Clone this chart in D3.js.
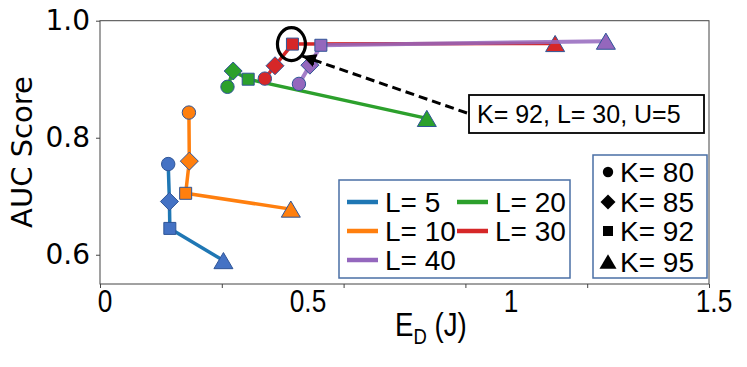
<!DOCTYPE html>
<html>
<head>
<meta charset="utf-8">
<script src="https://cdn.jsdelivr.net/npm/d3@7"></script>
<style>
  body { margin: 0; background: #fff; }
  svg { display: block; }
</style>
</head>
<body>
<div id="chart"></div>
<script>
// K values (marker shape) and L values (series)
var kValues = [80, 85, 92, 95];
var lValues = [5, 10, 20, 30, 40];

// energy E_D (J) per series, in K order
var ed5  = [0.168, 0.171, 0.172, 0.304];
var ed10 = [0.219, 0.220, 0.211, 0.470];
var ed20 = [0.314, 0.328, 0.365, 0.805];
var ed30 = [0.406, 0.431, 0.474, 1.121];
var ed40 = [0.490, 0.517, 0.544, 1.246];

// AUC score per series, in K order
var auc5  = [0.755, 0.691, 0.645, 0.590];
var auc10 = [0.843, 0.760, 0.705, 0.678];
var auc20 = [0.887, 0.914, 0.900, 0.833];
var auc30 = [0.901, 0.923, 0.960, 0.961];
var auc40 = [0.892, 0.924, 0.958, 0.965];

var xTickLabels = [0, 0.5, 1, 1.5];
var xTickMarks = [0, 0.3, 0.6, 0.9, 1.2, 1.5];
var yTicks = [0.6, 0.8, 1.0];

var lineColors = ["#1f77b4", "#ff7f0e", "#2ca02c", "#d62728", "#9467bd"];
var markColors = ["#4472c4", "#ff7f0e", "#2ca02c", "#d62728", "#9467bd"];
var edgeColor = "#2f5597";

// matplotlib-like marker shapes (size = half width)
var circleSym = {draw: function(c, r) { c.moveTo(r, 0); c.arc(0, 0, r, 0, 2 * Math.PI); }};
var diamondSym = {draw: function(c, r) { c.moveTo(0, -r); c.lineTo(r, 0); c.lineTo(0, r); c.lineTo(-r, 0); c.closePath(); }};
var squareSym = {draw: function(c, r) { c.rect(-r, -r, 2 * r, 2 * r); }};
var triangleSym = {draw: function(c, r) { var h = r * 0.85; c.moveTo(0, -h); c.lineTo(r, h); c.lineTo(-r, h); c.closePath(); }};
var shapes = [circleSym, diamondSym, squareSym, triangleSym];
var shapeSize = [6.7, 9, 6, 9.5];

var series = [
  {L: 5,  ed: ed5,  auc: auc5},
  {L: 10, ed: ed10, auc: auc10},
  {L: 20, ed: ed20, auc: auc20},
  {L: 30, ed: ed30, auc: auc30},
  {L: 40, ed: ed40, auc: auc40}
];

var W = 747, H = 367;
var plot = {left: 100, right: 709, top: 20.7, bottom: 284};

var svg = d3.select("#chart").append("svg")
    .attr("width", W)
    .attr("height", H);

var x = d3.scaleLinear().domain([0, 1.5]).range([plot.left, plot.right]);
var y = d3.scaleLinear().domain([0.55, 1.0]).range([plot.bottom, plot.top]);

// frame
svg.append("rect")
    .attr("x", plot.left).attr("y", plot.top)
    .attr("width", plot.right - plot.left).attr("height", plot.bottom - plot.top)
    .style("fill", "none").style("stroke", "#444").style("stroke-width", 1);

// x ticks (marks only) and labels
var xMarks = svg.append("g")
    .attr("transform", "translate(0," + plot.bottom + ")")
    .call(d3.axisBottom(x).tickValues(xTickMarks).tickSize(4).tickFormat(""));
xMarks.select(".domain").remove();
xMarks.selectAll("line").style("stroke", "#444");

var xLabels = svg.append("g")
    .attr("transform", "translate(0," + plot.bottom + ")")
    .call(d3.axisBottom(x).tickValues(xTickLabels).tickSize(0).tickPadding(5)
      .tickFormat(function(d){ return d; }));
xLabels.select(".domain").remove();
xLabels.selectAll(".tick").attr("transform", function(d) { return "translate(" + (x(d) + 5) + ",0)"; });
xLabels.selectAll("text")
    .attr("transform", "scale(0.82,1)")
    .style("font-family", "'Liberation Sans', Arial, sans-serif")
    .style("font-size", "32px").style("fill", "#000");

// y axis
var yAxis = svg.append("g")
    .attr("transform", "translate(" + plot.left + ",0)")
    .call(d3.axisLeft(y).tickValues(yTicks).tickSize(4).tickPadding(6)
      .tickFormat(d3.format(".1f")));
yAxis.select(".domain").remove();
yAxis.selectAll("line").style("stroke", "#444");
yAxis.selectAll("text")
    .style("font-family", "'DejaVu Sans', sans-serif")
    .style("font-size", "28px").style("fill", "#000");

// axis titles
svg.append("text")
    .attr("transform", "translate(32,152) rotate(-90)")
    .attr("text-anchor", "middle")
    .style("font-family", "'DejaVu Sans', sans-serif")
    .style("font-size", "29px")
    .text("AUC Score");

var xt = svg.append("text")
    .attr("transform", "translate(395,336) scale(0.84,1)")
    .style("font-family", "'Liberation Sans', Arial, sans-serif")
    .style("font-size", "33px");
xt.append("tspan").text("E");
xt.append("tspan").attr("dy", 8).style("font-size", "22px").text("D");
xt.append("tspan").attr("dy", -8).text(" (J)");

// lines + markers
var line = d3.line()
    .x(function(d){ return x(d.ed); })
    .y(function(d){ return y(d.auc); });

series.forEach(function(s, i) {
  var pts = kValues.map(function(k, j){ return {k: k, j: j, ed: s.ed[j], auc: s.auc[j]}; });
  svg.append("path")
      .datum(pts)
      .attr("d", line)
      .style("fill", "none")
      .style("stroke", lineColors[i])
      .style("stroke-width", i == 4 ? 4 : 3.5)
      .style("opacity", i == 4 ? 0.85 : 1);
  svg.selectAll(".m" + i)
      .data(pts)
    .enter().append("path")
      .attr("class", "m" + i)
      .attr("transform", function(d){ return "translate(" + x(d.ed) + "," + y(d.auc) + ")"; })
      .attr("d", function(d){ return d3.symbol().type(shapes[d.j]).size(shapeSize[d.j])(); })
      .style("fill", markColors[i])
      .style("stroke", edgeColor)
      .style("stroke-width", 1);
});

// annotation for K=92, L=30
var hx = x(ed30[2]), hy = y(auc30[2]);
svg.append("ellipse")
    .attr("cx", hx - 1).attr("cy", hy)
    .attr("rx", 14).attr("ry", 16.5)
    .style("fill", "none").style("stroke", "#000").style("stroke-width", 3.2);

svg.append("defs").append("marker")
    .attr("id", "ahead")
    .attr("viewBox", "0 0 10 10")
    .attr("refX", 10).attr("refY", 5)
    .attr("markerWidth", 4.5).attr("markerHeight", 4.5)
    .attr("markerUnits", "strokeWidth")
    .attr("orient", "auto")
  .append("path")
    .attr("d", "M0,0 L10,5 L0,10 z")
    .style("fill", "#000");

svg.append("line")
    .attr("x1", 467).attr("y1", 113)
    .attr("x2", hx + 10).attr("y2", hy + 12)
    .style("stroke", "#000").style("stroke-width", 3)
    .style("stroke-dasharray", "9,5")
    .attr("marker-end", "url(#ahead)");

svg.append("rect")
    .attr("x", 469).attr("y", 95)
    .attr("width", 235).attr("height", 38)
    .style("fill", "#fff").style("stroke", "#000").style("stroke-width", 1.8);
svg.append("text")
    .attr("x", 477).attr("y", 123)
    .style("font-family", "'Liberation Sans', Arial, sans-serif")
    .style("font-size", "25px")
    .text("K= " + kValues[2] + ", L= " + lValues[3] + ", U=5");

// legend for L (lines)
var legFont = "'Liberation Sans', Arial, sans-serif";
svg.append("rect")
    .attr("x", 339).attr("y", 180)
    .attr("width", 231).attr("height", 98)
    .style("fill", "#fff").style("stroke", "#4a6fa5").style("stroke-width", 1.5);
var legPos = [[347, 202], [347, 231], [347, 260], [457, 202], [457, 231]];
var legOrder = [0, 1, 4, 2, 3];
legOrder.forEach(function(si, p) {
  var lx = legPos[p][0], ly = legPos[p][1];
  svg.append("line")
      .attr("x1", lx).attr("x2", lx + 31)
      .attr("y1", ly).attr("y2", ly)
      .style("stroke", lineColors[si]).style("stroke-width", 4.5);
  svg.append("text")
      .attr("x", lx + 38).attr("y", ly + 10)
      .style("font-family", legFont).style("font-size", "28px")
      .text("L= " + lValues[si]);
});

// legend for K (markers)
svg.append("rect")
    .attr("x", 593).attr("y", 155)
    .attr("width", 114).attr("height", 123)
    .style("fill", "#fff").style("stroke", "#4a6fa5").style("stroke-width", 1.5);
var kRows = [172, 202, 231, 261.5];
var kSizes = [5.2, 7.5, 5, 8.5];
kValues.forEach(function(k, j) {
  svg.append("path")
      .attr("transform", "translate(608," + kRows[j] + ")")
      .attr("d", d3.symbol().type(shapes[j]).size(kSizes[j])())
      .style("fill", "#000");
  svg.append("text")
      .attr("x", 620).attr("y", kRows[j] + 10)
      .style("font-family", legFont).style("font-size", "28px")
      .text("K= " + k);
});
</script>
</body>
</html>
